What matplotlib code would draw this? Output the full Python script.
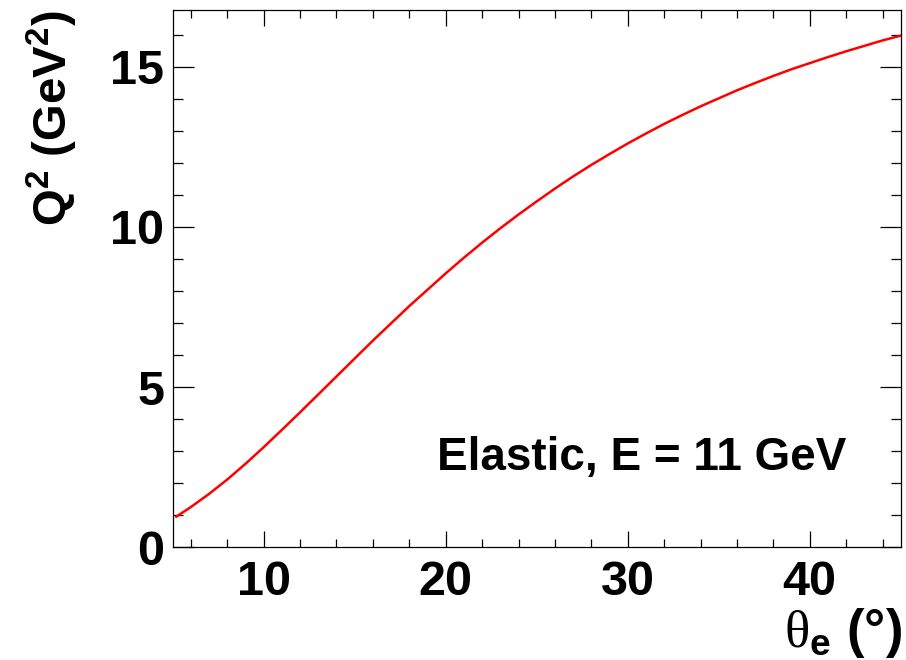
import matplotlib
matplotlib.use("Agg")
import matplotlib.pyplot as plt
from matplotlib.ticker import MultipleLocator

# Elastic e-p scattering kinematics at E = 11 GeV: scattering angle vs Q^2
theta_deg = [5.2, 6, 7, 8, 9, 10, 11, 12, 13, 14, 15, 16, 17, 18, 19, 20,
             21, 22, 23, 24, 25, 26, 27, 28, 29, 30, 31, 32, 33, 34, 35,
             36, 37, 38, 39, 40, 41, 42, 43, 44, 45]
q2_gev2 = [0.95, 1.25, 1.66, 2.11, 2.60, 3.12, 3.66, 4.21, 4.77, 5.33,
           5.89, 6.45, 6.99, 7.53, 8.04, 8.55, 9.04, 9.51, 9.96, 10.39,
           10.80, 11.20, 11.58, 11.94, 12.28, 12.61, 12.92, 13.22, 13.50,
           13.77, 14.02, 14.27, 14.50, 14.72, 14.93, 15.12, 15.31, 15.49,
           15.66, 15.83, 15.98]

x_range = (5, 45)
y_range = (0, 16.78)

plt.rcParams["font.family"] = ["Liberation Sans", "DejaVu Sans"]
plt.rcParams["mathtext.fontset"] = "custom"
plt.rcParams["mathtext.rm"] = "Liberation Serif"
plt.rcParams["mathtext.bf"] = "Liberation Sans:bold"

fig = plt.figure(figsize=(9.06, 6.60), dpi=100)
ax = fig.add_axes([0.1906, 0.1712, 0.8036, 0.8136])

ax.plot(theta_deg, q2_gev2, color="#ff0000", lw=1.8)

ax.set_xlim(*x_range)
ax.set_ylim(*y_range)

ax.xaxis.set_major_locator(MultipleLocator(10))
ax.xaxis.set_minor_locator(MultipleLocator(2))
ax.yaxis.set_major_locator(MultipleLocator(5))
ax.yaxis.set_minor_locator(MultipleLocator(1))

for s in ax.spines.values():
    s.set_linewidth(0.9)

ax.tick_params(axis="x", which="major", direction="in", length=11.5, width=0.9,
               top=True, bottom=True, labelsize=35, pad=9)
ax.tick_params(axis="x", which="minor", direction="in", length=5.8, width=0.9,
               top=True, bottom=True)
ax.tick_params(axis="y", which="major", direction="in", length=15.1, width=0.9,
               left=True, right=True, labelsize=35, pad=6)
ax.tick_params(axis="y", which="minor", direction="in", length=7.2, width=0.9,
               left=True, right=True)
for lab in ax.get_xticklabels() + ax.get_yticklabels():
    lab.set_fontweight("bold")

fig.text(0.996, 0.0, r"$\mathrm{\theta}_{\mathbf{e}}$ (°)", ha="right", va="bottom",
         fontsize=38, fontweight="bold")
fig.text(0.058, 0.9848, r"Q$^{\mathbf{2}}$ (GeV$^{\mathbf{2}}$)", rotation=90,
         ha="center", va="top", fontsize=34, fontweight="bold")

ax.text(0.363, 0.143, "Elastic, E = 11 GeV", transform=ax.transAxes,
        ha="left", va="baseline", fontsize=33, fontweight="bold")

fig.savefig("out.png", dpi=100)
